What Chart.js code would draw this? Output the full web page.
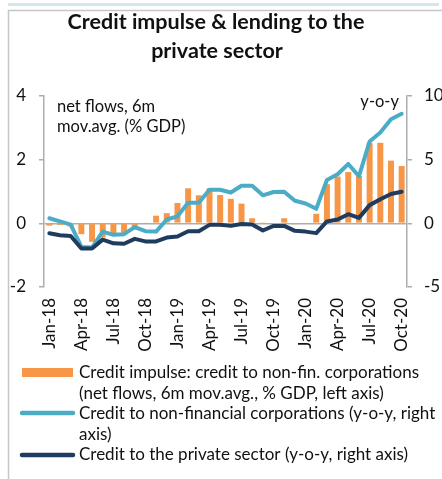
<!DOCTYPE html>
<html>
<head>
<meta charset="utf-8">
<script src="https://cdn.jsdelivr.net/npm/chart.js@4/dist/chart.umd.min.js"></script>
<style>
  html, body { margin: 0; padding: 0; background: #ffffff; }
  #wrap { position: relative; width: 442px; height: 479px; }
  canvas { display: block; }
</style>
</head>
<body>
<div id="wrap"><canvas id="chart" width="442" height="479"></canvas></div>
<script>
// Monthly categories, Jan 2018 – Oct 2020
const months = [
  'Jan-18','Feb-18','Mar-18','Apr-18','May-18','Jun-18','Jul-18','Aug-18','Sep-18','Oct-18','Nov-18','Dec-18',
  'Jan-19','Feb-19','Mar-19','Apr-19','May-19','Jun-19','Jul-19','Aug-19','Sep-19','Oct-19','Nov-19','Dec-19',
  'Jan-20','Feb-20','Mar-20','Apr-20','May-20','Jun-20','Jul-20','Aug-20','Sep-20','Oct-20'
];

// Credit impulse: net flows to non-financial corporations, 6m moving average, % of GDP (left axis)
const impulse = [
  -0.07, -0.05, -0.10, -0.34, -0.58, -0.44, -0.39, -0.36, -0.19, 0.02, 0.24, 0.32,
  0.64, 1.10, 0.88, 1.10, 0.89, 0.77, 0.62, 0.16, 0.03, -0.01, 0.16, -0.03,
  0.00, 0.30, 1.23, 1.47, 1.61, 1.49, 2.52, 2.53, 1.97, 1.80
];

// Credit to non-financial corporations, y-o-y % (right axis)
const nfcGrowth = [
  0.40, 0.15, -0.10, -1.85, -1.90, -0.65, -0.90, -0.85, -0.30, -0.62, -0.65, 0.30,
  0.55, 1.62, 1.62, 2.64, 2.64, 2.42, 2.95, 2.95, 2.20, 2.46, 2.48, 1.77,
  1.56, 1.14, 3.40, 3.85, 4.66, 3.70, 6.43, 7.13, 8.18, 8.60
];

// Credit to the private sector, y-o-y % (right axis)
const privateGrowth = [
  -0.78, -0.93, -1.00, -1.98, -1.98, -1.28, -1.57, -1.60, -1.22, -1.42, -1.42, -1.12,
  -1.03, -0.62, -0.62, -0.12, -0.12, -0.20, -0.05, -0.09, -0.56, -0.20, -0.20, -0.59,
  -0.65, -0.77, 0.15, 0.30, 0.72, 0.43, 1.43, 1.89, 2.30, 2.48
];

const leftRange = [-2, 4];
const leftStep = 2;
const rightRange = [-5, 10];
const rightStep = 5;

const titleLines = ['Credit impulse & lending to the', 'private sector'];
const leftNote = ['net flows, 6m', 'mov.avg. (% GDP)'];
const rightNote = 'y-o-y';

const seriesNames = [
  ['Credit impulse: credit to non-fin. corporations', '(net flows, 6m mov.avg., % GDP, left axis)'],
  ['Credit to non-financial corporations (y-o-y, right', 'axis)'],
  ['Credit to the private sector (y-o-y, right axis)']
];

const ORANGE = '#F79646';
const AQUA = '#4BACC6';
const NAVY = '#1F3B5E';
const AXIS = '#ADADAD';
const TEXT = '#111111';
const FONT = 'Lato, "Open Sans", sans-serif';

// Frame, title, notes and the wrapped legend
const decorations = {
  id: 'decorations',
  beforeDraw(chart) {
    const ctx = chart.ctx;
    ctx.save();
    ctx.fillStyle = '#ffffff';
    ctx.fillRect(0, 0, chart.width, chart.height);
    ctx.fillStyle = '#D3E7EE';
    ctx.fillRect(8, 3, 431, 3);
    ctx.strokeStyle = '#C6C6C6';
    ctx.lineWidth = 1.5;
    ctx.beginPath();
    ctx.moveTo(8.5, chart.height);
    ctx.lineTo(8.5, 10.5);
    ctx.lineTo(chart.width, 10.5);
    ctx.stroke();
    ctx.restore();
  },
  afterDraw(chart) {
    const ctx = chart.ctx;
    ctx.save();
    ctx.fillStyle = TEXT;

    // title
    ctx.font = 'bold 21.5px ' + FONT;
    ctx.textAlign = 'center';
    ctx.textBaseline = 'alphabetic';
    ctx.fillText(titleLines[0], 216, 29);
    ctx.fillText(titleLines[1], 217, 58);

    // axis notes
    ctx.font = '16.5px ' + FONT;
    ctx.textAlign = 'left';
    ctx.textBaseline = 'middle';
    ctx.fillText(leftNote[0], 57, 107);
    ctx.fillText(leftNote[1], 57, 127);
    ctx.textAlign = 'right';
    ctx.fillText(rightNote, 399, 102);

    // legend
    ctx.fillStyle = ORANGE;
    ctx.fillRect(22, 368, 51, 9);
    ctx.lineCap = 'round';
    ctx.lineWidth = 4.5;
    ctx.strokeStyle = AQUA;
    ctx.beginPath(); ctx.moveTo(22, 413); ctx.lineTo(73, 413); ctx.stroke();
    ctx.strokeStyle = NAVY;
    ctx.beginPath(); ctx.moveTo(22, 455); ctx.lineTo(73, 455); ctx.stroke();

    ctx.fillStyle = TEXT;
    ctx.font = '17px ' + FONT;
    ctx.textAlign = 'left';
    ctx.textBaseline = 'middle';
    const rows = [373, 394, 414, 435, 455];
    const text = [].concat(...seriesNames);
    text.forEach((t, i) => ctx.fillText(t, 79, rows[i]));
    ctx.restore();
  }
};

new Chart(document.getElementById('chart'), {
  type: 'bar',
  data: {
    labels: months,
    datasets: [
      {
        type: 'line',
        label: seriesNames[2].join(' '),
        data: privateGrowth,
        yAxisID: 'y1',
        borderColor: NAVY,
        borderWidth: 4,
        pointRadius: 0,
        tension: 0,
        borderJoinStyle: 'round',
        borderCapStyle: 'round',
        order: 1
      },
      {
        type: 'line',
        label: seriesNames[1].join(' '),
        data: nfcGrowth,
        yAxisID: 'y1',
        borderColor: AQUA,
        borderWidth: 4,
        pointRadius: 0,
        tension: 0,
        borderJoinStyle: 'round',
        borderCapStyle: 'round',
        order: 2
      },
      {
        type: 'bar',
        label: seriesNames[0].join(' '),
        data: impulse,
        yAxisID: 'y',
        backgroundColor: ORANGE,
        borderWidth: 0,
        categoryPercentage: 1,
        barPercentage: 0.56,
        order: 3
      }
    ]
  },
  options: {
    responsive: false,
    animation: false,
    devicePixelRatio: 1,
    layout: { padding: { top: 96, left: 0, right: 0, bottom: 0 } },
    plugins: {
      legend: { display: false },
      title: { display: false },
      tooltip: { enabled: false }
    },
    scales: {
      x: {
        type: 'category',
        offset: true,
        grid: { display: false, drawTicks: false },
        border: { display: false },
        ticks: {
          autoSkip: false,
          minRotation: 90,
          maxRotation: 90,
          padding: 11,
          color: TEXT,
          font: { family: FONT, size: 17 },
          callback: (v, i) => (i % 3 === 0 ? months[i] : '')
        },
        afterFit: s => { s.height = 192; }
      },
      y: {
        position: 'left',
        min: leftRange[0],
        max: leftRange[1],
        ticks: { stepSize: leftStep, padding: 13, color: TEXT, font: { family: FONT, size: 17 } },
        grid: {
          color: c => (c.tick && c.tick.value === 0 ? AXIS : 'rgba(0,0,0,0)'),
          tickColor: AXIS,
          tickLength: 5,
          lineWidth: 1.5
        },
        border: { display: true, color: AXIS, width: 1.5 },
        afterFit: s => { s.width = 44; }
      },
      y1: {
        position: 'right',
        min: rightRange[0],
        max: rightRange[1],
        ticks: { stepSize: rightStep, padding: 12, color: TEXT, font: { family: FONT, size: 17 } },
        grid: { drawOnChartArea: false, tickColor: AXIS, tickLength: 5, lineWidth: 1.5 },
        border: { display: true, color: AXIS, width: 1.5 },
        afterFit: s => { s.width = 35; }
      }
    }
  },
  plugins: [decorations]
});
</script>
</body>
</html>
